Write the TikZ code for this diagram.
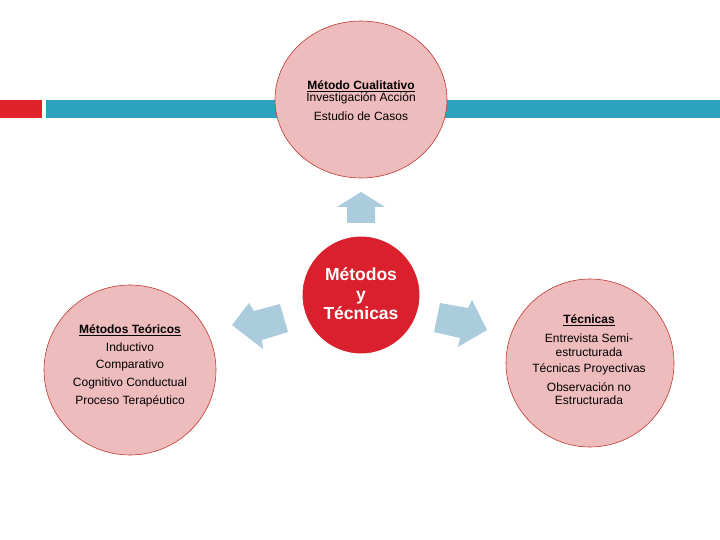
\documentclass[tikz,border=0pt]{standalone}
\usepackage{fontspec}
\setmainfont{Liberation Sans}
\usetikzlibrary{shapes.geometric}
\definecolor{pinkfill}{HTML}{EEBCBD}
\definecolor{pinkdraw}{HTML}{C0392F}
\definecolor{redc}{HTML}{D9202C}
\definecolor{barblue}{HTML}{2CA2BF}
\definecolor{barred}{HTML}{E0232B}
\definecolor{arrowblue}{HTML}{AACCDD}
\tikzset{
  bubble/.style={ellipse, fill=pinkfill, draw=pinkdraw, line width=0.6pt, inner sep=0pt},
  txt/.style={font=\fontsize{12}{13}\selectfont, align=center, inner sep=0pt},
  hub/.style={circle, fill=redc, draw=white, line width=1pt, minimum size=118pt, inner sep=0pt},
  bigarrow/.style={fill=arrowblue, draw=none}
}
\begin{document}
\begin{tikzpicture}[x=1pt,y=-1pt]
\useasboundingbox (0,0) rectangle (720,540);
% bar
\fill[barred] (0,100) rectangle (42,118);
\fill[barblue] (46,100) rectangle (720,118);
% bubbles
\node[bubble, minimum width=172pt, minimum height=157pt] (top) at (361,99.5) {};
\node[bubble, minimum width=172pt, minimum height=170pt] (left) at (130,370) {};
\node[bubble, minimum width=168pt, minimum height=168pt] (right) at (590,363) {};
% hub
\node[hub] (hub) at (361,295) {};
\node[txt, text=white, font=\fontsize{17.5}{19.5}\selectfont\bfseries] (hubtxt) at (361,294) {Métodos\\y\\Técnicas};
% arrows
\fill[bigarrow] (361,192) -- (385,207) -- (375,207) -- (375,223) -- (347,223) -- (347,207) -- (337,207) -- cycle;
\fill[bigarrow] (232,325) -- (249,303) -- (254,311) -- (280,304) -- (288,332) -- (262,340) -- (263,349) -- cycle;
\fill[bigarrow] (487,330) -- (472,300) -- (468,308) -- (440,303) -- (434,332) -- (460,338) -- (458,347) -- cycle;
% top text
\node[txt] (t1) at (361,86) {\underline{\textbf{Método Cualitativo}}};
\node[txt] (t2) at (361,98) {Investigación Acción};
\node[txt] (t3) at (361,116) {Estudio de Casos};
% left text
\node[txt] (l1) at (130,330) {\underline{\textbf{Métodos Teóricos}}};
\node[txt] (l2) at (130,347.5) {Inductivo};
\node[txt] (l3) at (130,365.5) {Comparativo};
\node[txt] (l4) at (130,383.5) {Cognitivo Conductual};
\node[txt] (l5) at (130,401.5) {Proceso Terapéutico};
% right text
\node[txt] (r1) at (589,320.5) {\underline{\textbf{Técnicas}}};
\node[txt] (r2) at (589,338.5) {Entrevista Semi-};
\node[txt] (r3) at (589,352) {estructurada};
\node[txt] (r4) at (589,369.5) {Técnicas Proyectivas};
\node[txt] (r5) at (589,387) {Observación no};
\node[txt] (r6) at (589,400.5) {Estructurada};
\end{tikzpicture}
\end{document}
